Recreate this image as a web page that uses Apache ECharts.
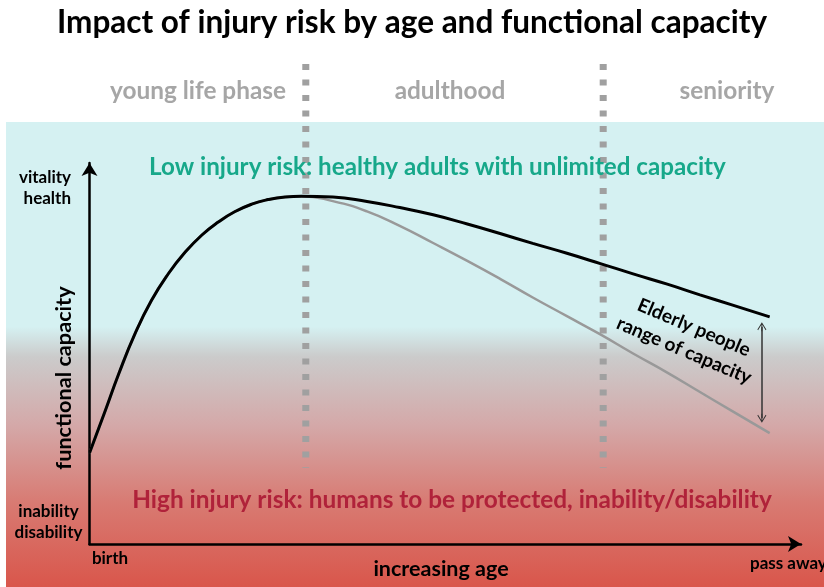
<!DOCTYPE html>
<html>
<head>
<meta charset="utf-8">
<title>Impact of injury risk by age and functional capacity</title>
<script src="https://cdn.jsdelivr.net/npm/echarts@6/dist/echarts.min.js"></script>
<style>
  html, body { margin: 0; padding: 0; background: #fff; }
  #chart { width: 824px; height: 587px; }
</style>
</head>
<body>
<div id="chart"></div>
<script>
// age axis 0..100 (birth -> pass away), capacity axis 0..100 (disability -> vitality)
const ageRise = [0, 2.2, 4.1, 6.4, 8.7, 11.1, 13.4, 15.8, 18.1, 20.4, 22.8, 25.1, 27.5, 29.8];
const capRise = [23.9, 34.9, 44.6, 55.2, 63.9, 71.0, 76.5, 81.1, 84.5, 87.2, 89.2, 90.4, 91.1, 91.3];

const ageLate = [34.2, 39.0, 43.6, 48.3, 53.1, 57.7, 62.3, 67.1, 71.8, 76.4, 81.2, 85.8, 90.4, 95.6];
const capUpper = [91.1, 89.9, 88.3, 86.4, 84.0, 81.5, 78.9, 76.3, 73.6, 70.9, 68.2, 65.4, 62.7, 59.6];
const capLower = [90.0, 87.3, 83.5, 79.0, 74.3, 69.6, 64.7, 59.8, 55.0, 50.0, 45.0, 39.9, 34.8, 29.1];

// life phase borders (dotted lines)
const phaseBorders = [30.4, 72.2];
const phaseLineSpan = [126, 20];
const phaseNames = ['young life phase', 'adulthood', 'seniority'];

// elderly range arrow
const rangeAge = 94.5;
const rangeSpan = [57.0, 33.0];

const font = 'Lato, "Open Sans", sans-serif';

const toPairs = (xs, ys) => xs.map((x, i) => [x, ys[i]]);
const upperData = toPairs(ageRise, capRise).concat(toPairs(ageLate, capUpper));
const lowerData = toPairs(ageRise, capRise).concat(toPairs(ageLate, capLower));

const chart = echarts.init(document.getElementById('chart'), null, { renderer: 'canvas' });

const openArrow = 'path://M5,0 L10,8 L9.2,8.8 L5.5,2.8 L5.5,10 L4.5,10 L4.5,2.8 L0.8,8.8 L0,8 Z';

const axisBase = {
  type: 'value',
  min: 0,
  max: 100,
  axisLine: {
    show: true,
    symbol: ['none', 'arrow'],
    symbolSize: [12, 13],
    lineStyle: { color: '#000', width: 2.5 }
  },
  axisTick: { show: false },
  axisLabel: { show: false },
  splitLine: { show: false }
};

const phaseSeries = phaseBorders.map((x, i) => ({
  type: 'line',
  name: 'phase' + i,
  data: [[x, phaseLineSpan[0]], [x, phaseLineSpan[1]]],
  clip: false,
  symbol: 'none',
  z: 1,
  silent: true,
  lineStyle: { color: '#a0a0a0', width: 7, type: [6, 9.5], cap: 'butt' }
}));

function txt(text, x, y, size, color, extra) {
  return Object.assign({
    type: 'text',
    x: x, y: y, z: 100,
    style: Object.assign({
      text: text,
      fill: color,
      font: 'bold ' + size + 'px ' + font,
      align: 'center',
      verticalAlign: 'middle'
    }, (extra && extra.style) || {})
  }, extra ? { rotation: extra.rotation || 0 } : {});
}

const option = {
  animation: false,
  grid: { left: 89.5, right: 23, top: 163, bottom: 43, containLabel: false },
  xAxis: axisBase,
  yAxis: axisBase,
  graphic: [
    {
      type: 'rect',
      z: -10,
      shape: { x: 6, y: 122, width: 818, height: 465 },
      style: {
        fill: new echarts.graphic.LinearGradient(0, 0, 0, 1, [
          { offset: 0, color: '#d5f1f2' },
          { offset: 0.44, color: '#d5f1f2' },
          { offset: 0.505, color: '#cbcbcb' },
          { offset: 0.65, color: '#d4a9a9' },
          { offset: 0.82, color: '#d87a72' },
          { offset: 1, color: '#d9564b' }
        ])
      }
    },
    txt('Impact of injury risk by age and functional capacity', 412, 23, 31.5, '#000'),
    txt(phaseNames[0], 198, 91, 24.4, '#a6a6a6'),
    txt(phaseNames[1], 450, 91, 24.4, '#a6a6a6'),
    txt(phaseNames[2], 727, 91, 24.4, '#a6a6a6'),
    txt('Low injury risk: healthy adults with unlimited capacity', 437.5, 167, 24.2, '#17a88a'),
    txt('High injury risk: humans to be protected, inability/disability', 452, 500, 24.4, '#b0223a'),
    txt('vitality\nhealth', 71, 188.5, 17, '#000', { style: { align: 'right', lineHeight: 21 } }),
    txt('inability\ndisability', 48.5, 522.5, 17, '#000', { style: { lineHeight: 21 } }),
    txt('functional capacity', 64, 378, 21.7, '#000', { rotation: Math.PI / 2 }),
    txt('birth', 110, 559, 17, '#000'),
    txt('increasing age', 441, 569, 21.5, '#000'),
    txt('pass away', 750, 564, 17, '#000', { style: { align: 'left' } }),
    txt('Elderly people\nrange of capacity', 689, 339, 19, '#000', { rotation: -0.40, style: { lineHeight: 25 } })
  ],
  series: phaseSeries.concat([
    {
      type: 'line',
      name: 'lower capacity',
      data: lowerData,
      smooth: 0.5,
      symbol: 'none',
      z: 3,
      lineStyle: { color: '#999999', width: 2.5 }
    },
    {
      type: 'line',
      name: 'upper capacity',
      data: upperData,
      smooth: 0.5,
      symbol: 'none',
      z: 4,
      lineStyle: { color: '#000', width: 3 },
      markLine: {
        silent: true,
        symbol: [openArrow, openArrow],
        symbolSize: [9, 9],
        label: { show: false },
        lineStyle: { color: '#333', width: 1.5, type: 'solid' },
        data: [[{ coord: [rangeAge, rangeSpan[0]] }, { coord: [rangeAge, rangeSpan[1]] }]]
      }
    }
  ])
};

chart.setOption(option);
</script>
</body>
</html>
